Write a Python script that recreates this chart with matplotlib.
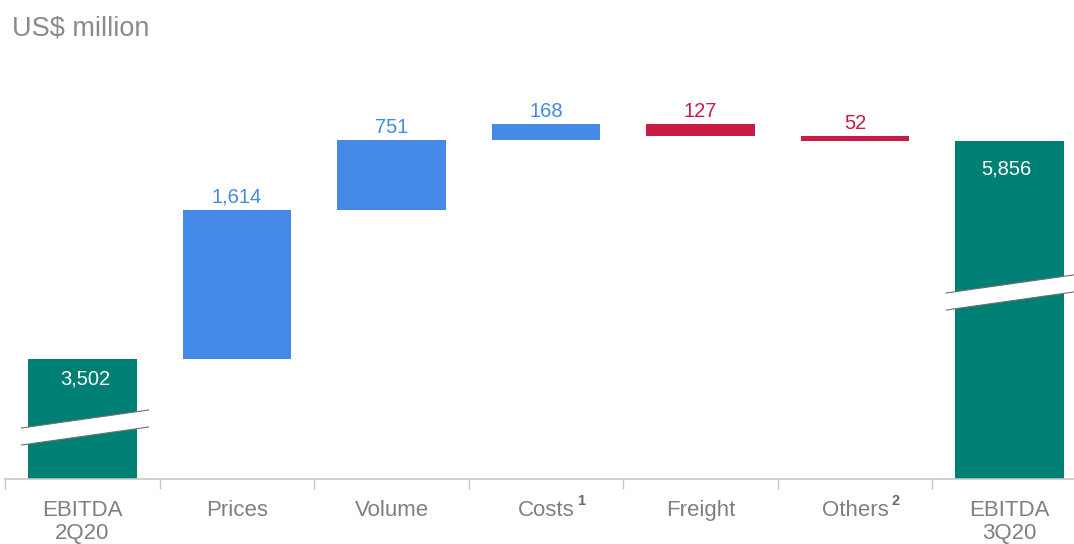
import numpy as np
import matplotlib.pyplot as plt
from matplotlib.patches import Polygon

plt.rcParams['font.family'] = ['Liberation Sans', 'DejaVu Sans']

# EBITDA bridge, US$ million
categories = ["EBITDA\n2Q20", "Prices", "Volume", "Costs", "Freight", "Others", "EBITDA\n3Q20"]
footnotes = {3: "1", 5: "2"}
start_total = 3502
steps = [1614, 751, 168, -127, -52]
end_total = 5856
step_labels = ["1,614", "751", "168", "127", "52"]
total_labels = ["3,502", "5,856"]

TEAL = "#007F74"
BLUE = "#4589E7"
RED = "#C91B45"
GREY_TXT = "#7F7F7F"
AXIS_GREY = "#C6C6C6"

fig = plt.figure(figsize=(10.74, 5.44), dpi=100)
W, H = 1074, 544
ax = fig.add_axes([5.3 / W, (H - 479) / H, (W - 5.3) / W, (479 - 60) / H])

width = 0.7

# totals (axis is broken, so they get clipped at the bottom)
ax.bar(0, start_total, width, color=TEAL, zorder=2)
ax.bar(len(categories) - 1, end_total, width, color=TEAL, zorder=2)

# floating step bars
level = start_total
for i, d in enumerate(steps, start=1):
    col = BLUE if d > 0 else RED
    ax.bar(i, d, width, bottom=level, color=col, zorder=2)
    top = max(level, level + d)
    ax.annotate(step_labels[i - 1], (i, top), xytext=(0, 13), textcoords="offset pixels",
                ha="center", va="center", fontsize=14.5, color=col)
    level += d

ax.annotate(total_labels[0], (0, start_total), xytext=(3, -20), textcoords="offset pixels",
            ha="center", va="center", fontsize=14.5, color="white", zorder=5)
ax.annotate(total_labels[1], (len(categories) - 1, end_total), xytext=(-3, -28),
            textcoords="offset pixels", ha="center", va="center", fontsize=14.5,
            color="white", zorder=5)


def break_mark(x0, x1, y_low0, gap=184, slope=236):
    # white slanted band with grey edges across a bar
    y_low1 = y_low0 + slope * (x1 - x0)
    pts = [(x0, y_low0), (x1, y_low1), (x1, y_low1 + gap), (x0, y_low0 + gap)]
    ax.add_patch(Polygon(pts, closed=True, facecolor="white", edgecolor="none", zorder=3))
    ax.plot([x0, x1], [y_low0, y_low1], color="#6F6F6F", lw=0.8, zorder=4)
    ax.plot([x0, x1], [y_low0 + gap, y_low1 + gap], color="#6F6F6F", lw=0.8, zorder=4)


break_mark(-0.395, 0.427, 2573)
break_mark(5.59, 6.6, 4031)

# axis styling
for s in ["top", "right", "left"]:
    ax.spines[s].set_visible(False)
ax.spines["bottom"].set_color(AXIS_GREY)
ax.spines["bottom"].set_linewidth(1.2)
ax.set_yticks([])
ax.set_xticks([])
ax.set_xticks(np.arange(-0.5, len(categories)), minor=True)
ax.tick_params(axis="x", which="minor", length=7, width=1.0, color=AXIS_GREY, labelbottom=False)

# limits last, set_xticks would widen them
ax.set_xlim(-0.5, -0.5 + (W - 5.3) / 154.5)
ax.set_ylim(2206, 6731)

# category labels, one line at a time
renderer = fig.canvas.get_renderer()
for i, lab in enumerate(categories):
    for k, line in enumerate(lab.split("\n")):
        t = ax.annotate(line, (i, 0), xycoords=ax.get_xaxis_transform(),
                        xytext=(0, -(516 - 479) - 23 * k), textcoords="offset pixels",
                        ha="center", va="baseline", fontsize=16, color=GREY_TXT,
                        annotation_clip=False)
    if i in footnotes:
        half = t.get_window_extent(renderer).width / 2
        ax.annotate(footnotes[i], (i, 0), xycoords=ax.get_xaxis_transform(),
                    xytext=(half + 3, -(505 - 479)), textcoords="offset pixels",
                    ha="left", va="baseline", fontsize=10.5, fontweight="bold",
                    color="#6A6A6A", annotation_clip=False)

fig.text(12 / W, 1 - 28 / H, "US$ million", ha="left", va="center", fontsize=19.5, color="#8A8A8A")

fig.savefig("out.png", dpi=100)
